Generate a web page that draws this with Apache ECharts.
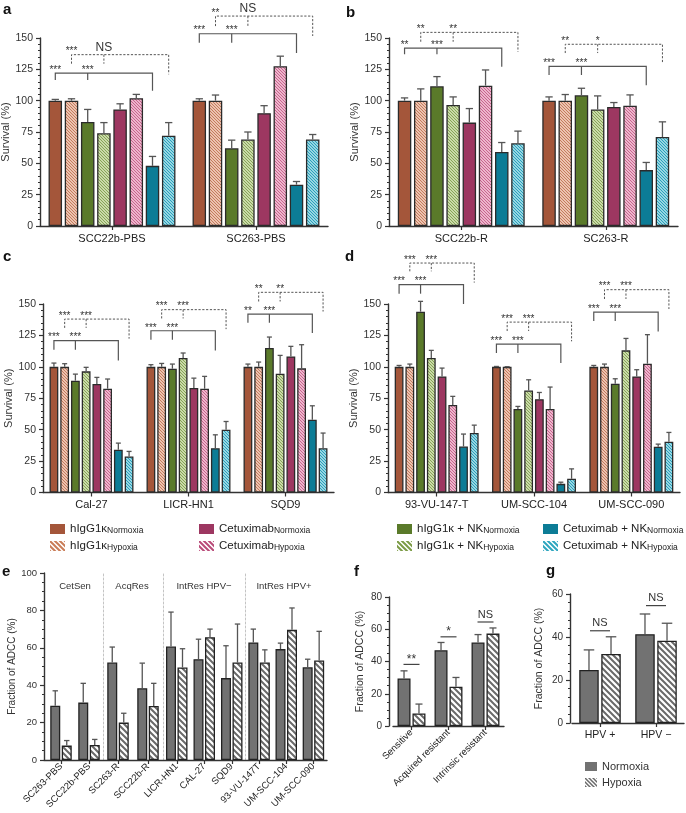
<!DOCTYPE html>
<html><head><meta charset="utf-8">
<script src="https://cdn.jsdelivr.net/npm/echarts@6/dist/echarts.min.js"></script>
<style>html,body{margin:0;padding:0;background:#fff}#c{width:686px;height:813px}</style>
</head><body><div id="c"></div>
<script>
// ================= DATA =================
const survivalNames = ['hIgG1κ Normoxia','hIgG1κ Hypoxia','hIgG1κ + NK Normoxia','hIgG1κ + NK Hypoxia','Cetuximab Normoxia','Cetuximab Hypoxia','Cetuximab + NK Normoxia','Cetuximab + NK Hypoxia'];
const survivalTicks = [0, 150, 25];

// panel a  (rows = cell line, columns = the 8 conditions)
const aCategories = ['SCC22b-PBS','SC263-PBS'];
const aMeans  = [[100,100,83,74,93,102,48,72],[100,100,62,69,90,127.5,33,69]];
const aErrTop = [[101,101.5,93,82.5,97.5,105,55.5,82.5],[101.5,104.5,68.5,75,96,135.5,35.5,73]];
// [category, fromBar, midBar, toBar, level, leftEnd, rightEnd, leftLabel, midLabel, dashed]
const aBrackets = [
  [0,0,2,6,122,116.5,108,'***','***',false],
  [0,1,3,7,136.7,129.5,121,'***','NS',true],
  [1,0,2,6,153.4,146.3,138,'***','***',false],
  [1,1,3,7,167.5,159.5,151.6,'**','NS',true]
];
// panel b
const bCategories = ['SCC22b-R','SC263-R'];
const bMeans  = [[100,100,111.5,96.5,82.5,112,59,66],[100,100,104.3,93,95,96,44.6,71]];
const bErrTop = [[102.2,109.4,119.2,103,93.7,124.5,66.6,75.7],[103,104.9,109.9,103.8,98.5,104.6,50.7,83.1]];
const bBrackets = [
  [0,0,2,6,142,137,127,'**','***',false],
  [0,1,3,7,154.5,147,139,'**','**',true],
  [1,0,2,6,127.4,120.5,112.3,'***','***',false],
  [1,1,3,7,145,138,129.5,'**','*',true]
];
// panel c
const cCategories = ['Cal-27','LICR-HN1','SQD9'];
const cMeans  = [[100,100,89,96.4,86.3,82.6,34,28.7],[100,100,98.5,107,83.1,82.6,35.3,49.9],[100,100,115,94.5,108.3,98.8,57.9,35.3]];
const cErrTop = [[103,102.5,94.2,99.6,91.6,90.3,39.3,32.7],[101.7,102.7,102.2,111,91,92.4,45.9,56.5],[102.2,103.8,123.7,109.1,116.3,117.6,69,47.3]];
const cBrackets = [
  [0,0,2,6,120.8,113.6,105,'***','***',false],
  [0,1,3,7,138,131,122.4,'***','***',true],
  [1,0,2,6,128.7,121.6,113,'***','***',false],
  [1,1,3,7,145.5,138.5,130,'***','***',true],
  [2,0,2,6,142,135,127,'**','***',false],
  [2,1,3,7,159.3,152,144,'**','**',true]
];
// panel d
const dCategories = ['93-VU-147-T','UM-SCC-104','UM-SCC-090'];
const dMeans  = [[100,100,143.9,107,92.4,69.6,36.6,47.3],[100,100,66.4,81.2,74.3,66.4,6.9,10.9],[100,100,86.5,113.1,92.4,102.5,36.4,40.4]];
const dErrTop = [[101.1,102.2,152.1,113.1,99,76.5,46.5,53.6],[100.3,100.1,68.5,89.7,79.6,83.9,8.2,18.8],[101.1,102.2,90.5,122.6,97.7,125.6,38.5,47.8]];
const dBrackets = [
  [0,0,2,6,165.4,158.2,150,'***','***',false],
  [0,1,3,7,182.6,176,167,'***','***',true],
  [1,0,2,6,118.1,111,103,'***','***',false],
  [1,1,3,7,135.6,128.5,120.3,'***','***',true],
  [2,0,2,6,143.6,136.5,128.2,'***','***',false],
  [2,1,3,7,161.4,154,146,'***','***',true]
];
// panel e
const eCategories = [['SC263-PBS','SCC22b-PBS'],['SC263-R','SCC22b-R'],['LICR-HN1','CAL-27','SQD9'],['93-VU-147T','UM-SCC-104','UM-SCC-090']];
const eGroupTitles = [['Cet','Sen',''],['Acq','Res',''],['Int','Res',' HPV−'],['Int','Res',' HPV+']];
const eNormoxia    = [[29,30.7],[52.1,38.4],[60.7,53.9,43.8],[62.9,59.3,49.6]];
const eNormoxiaTop = [[37,41],[60.4,51.8],[79.1,64.6,61.1],[70,62.5,53.9]];
const eHypoxia     = [[7.7,8],[20,28.9],[49.5,65.7,52.1],[52.1,69.6,53.2]];
const eHypoxiaTop  = [[10.4,11],[25,41],[59.5,70,72.7],[58.9,81.3,68.8]];
// panel f
const fCategories = ['Sensitive','Acquired resistant','Intrinsic resistant'];
const fNormoxia    = [29.5,47,51.8];
const fNormoxiaTop = [34.2,51.8,56.7];
const fHypoxia     = [7.8,24.3,57.3];
const fHypoxiaTop  = [13.6,30.1,60.8];
const fSignif      = ['**','*','NS'];
const fSignifLevel = [38.2,55.3,64.5];
// panel g
const gCategories = ['HPV +','HPV −'];
const gNormoxia    = [24.7,41.3];
const gNormoxiaTop = [34,50.7];
const gHypoxia     = [32.1,38.3];
const gHypoxiaTop  = [40.1,46.4];
const gSignif      = ['NS','NS'];
const gSignifLevel = [42.9,54.6];

// ================= STYLE =================
const FONT = "'Liberation Sans', Arial, Helvetica, sans-serif";
function hatch(bg, fg, size, lw) {
  const cv = document.createElement('canvas'); cv.width = cv.height = size;
  const g = cv.getContext('2d');
  g.fillStyle = bg; g.fillRect(0, 0, size, size);
  g.strokeStyle = fg; g.lineWidth = lw; g.beginPath();
  for (let k = -1; k <= 1; k++) { g.moveTo(k*size - 1, -1); g.lineTo(k*size + size + 1, size + 1); }
  g.stroke();
  return { image: cv, repeat: 'repeat' };
}
const survFill = [
  '#a4563a', hatch('#ecc3b0', '#c47b5d', 3, 1),
  '#5a7a2a', hatch('#cadaa9', '#86a456', 3, 1),
  '#9d3761', hatch('#edb6cc', '#c8648e', 3, 1),
  '#0c7c96', hatch('#97d6e3', '#2aa0ba', 3, 1)
];
const survLegendFill = [
  '#a4563a', hatch('#ffffff', '#c97c57', 5, 2),
  '#5a7a2a', hatch('#ffffff', '#7b9b45', 5, 2),
  '#9d3761', hatch('#ffffff', '#b94a78', 5, 2),
  '#0c7c96', hatch('#ffffff', '#2ea6bf', 5, 2)
];
const normFill = '#727272';
const hypFill = hatch('#ffffff', '#6a6a6a', 6, 2);
const AX = '#333';

// ================= BUILDERS =================
const grids = [], xAxes = [], yAxes = [], series = [];

function errRender(n, w, gf) {
  const pitch = w * (1 + gf), total = n * w + (n - 1) * w * gf;
  return function (params, api) {
    const c = api.value(0), i = api.value(1);
    const p0 = api.coord([c, api.value(2)]), p1 = api.coord([c, api.value(3)]);
    const x = p0[0] - total / 2 + i * pitch + w / 2, h = Math.max(2.5, w * 0.27);
    const st = { stroke: '#555', lineWidth: 1.3 };
    return { type: 'group', children: [
      { type: 'line', shape: { x1: x, y1: p0[1], x2: x, y2: p1[1] }, style: st },
      { type: 'line', shape: { x1: x - h, y1: p1[1], x2: x + h, y2: p1[1] }, style: st }
    ]};
  };
}
function bracketRender(n, w, gf, list) {
  const pitch = w * (1 + gf), total = n * w + (n - 1) * w * gf;
  return function (params, api) {
    const c = api.value(0);
    const cx = api.coord([c, 0])[0];
    const bx = i => cx - total / 2 + i * pitch + w / 2;
    const x0 = bx(api.value(1)), xm = bx(api.value(2)), x1 = bx(api.value(3));
    const yl = api.coord([c, api.value(4)])[1];
    const yle = api.coord([c, api.value(5)])[1];
    const yre = api.coord([c, api.value(6)])[1];
    const dashed = api.value(7) === 1;
    const ls = { stroke: '#555', lineWidth: dashed ? 1 : 1.2, lineDash: dashed ? [2.2, 1.6] : null, fill: null };
    const b = list[params.dataIndex];
    const txt = (x, t) => ({ type: 'text', x: x, y: t === 'NS' ? yl - 1 : yl + 2,
      style: { text: t, fontFamily: FONT, fontSize: t === 'NS' ? 12 : 10, fill: '#333', align: 'center', verticalAlign: 'bottom' } });
    return { type: 'group', children: [
      { type: 'polyline', shape: { points: [[x0, yle], [x0, yl], [x1, yl], [x1, yre]] }, style: ls },
      { type: 'line', shape: { x1: xm, y1: yl, x2: xm, y2: yle }, style: ls },
      txt(x0, b[7]), txt(xm, b[8])
    ]};
  };
}
function sigRender(labels, halfW) {
  return function (params, api) {
    const p = api.coord([api.value(0), api.value(1)]);
    const t = labels[params.dataIndex];
    return { type: 'group', children: [
      { type: 'line', shape: { x1: p[0] - halfW, y1: p[1], x2: p[0] + halfW, y2: p[1] }, style: { stroke: '#444', lineWidth: 1.2 } },
      { type: 'text', x: p[0], y: t === 'NS' ? p[1] - 2 : p[1] + 1, style: { text: t, fontFamily: FONT, fontSize: t === 'NS' ? 11 : 12, fill: '#333', align: 'center', verticalAlign: 'bottom' } }
    ]};
  };
}
function valueAxis(gi, min, max, interval, name, nameGap, fs, minorSplit, offset) {
  return { gridIndex: gi, type: 'value', min: min, max: max, interval: interval, offset: offset || 0,
    name: name, nameLocation: 'middle', nameGap: nameGap,
    nameTextStyle: { fontFamily: FONT, fontSize: fs + 0.5, color: '#333' },
    axisLine: { show: true, lineStyle: { color: AX, width: 1.4 } },
    axisTick: { show: true, length: 4, lineStyle: { color: AX, width: 1.2 } },
    minorTick: { show: true, splitNumber: minorSplit, length: 2, lineStyle: { color: AX, width: 1 } },
    splitLine: { show: false }, minorSplitLine: { show: false },
    axisLabel: { fontFamily: FONT, fontSize: fs, color: '#333', margin: 7 } };
}
function catAxis(gi, cats, fs, rotate, showLine) {
  return { gridIndex: gi, type: 'category', data: cats,
    axisLine: { show: showLine !== false, lineStyle: { color: AX, width: 1.4 } },
    axisTick: { show: true, alignWithLabel: true, length: 4, lineStyle: { color: AX, width: 1.2 } },
    splitLine: { show: false },
    axisLabel: { fontFamily: FONT, fontSize: fs, color: '#222', margin: rotate ? 5 : 7, interval: 0, rotate: rotate || 0 } };
}
function addSurvival(cats, means, tops, brackets, rect, barW, gf) {
  const gi = grids.length;
  grids.push({ left: rect[0], top: rect[1], width: rect[2], height: rect[3], containLabel: false, outerBoundsMode: 'none' });
  xAxes.push(catAxis(gi, cats, 11));
  yAxes.push(valueAxis(gi, survivalTicks[0], survivalTicks[1], survivalTicks[2], 'Survival (%)', 25, 10.5, 5));
  survivalNames.forEach((n, i) => series.push({ type: 'bar', name: n, xAxisIndex: gi, yAxisIndex: gi,
    barWidth: barW, barGap: (gf * 100) + '%', data: cats.map((_, c) => means[c][i]),
    itemStyle: { color: survFill[i], borderColor: '#2b2b2b', borderWidth: 1.3 } }));
  const ed = [];
  cats.forEach((_, c) => means[c].forEach((m, i) => ed.push([c, i, m, tops[c][i]])));
  series.push({ type: 'custom', xAxisIndex: gi, yAxisIndex: gi, data: ed, encode: { x: 0, y: 3 }, renderItem: errRender(8, barW, gf), z: 3 });
  series.push({ type: 'custom', xAxisIndex: gi, yAxisIndex: gi,
    data: brackets.map(b => [b[0], b[1], b[2], b[3], b[4], b[5], b[6], b[9] ? 1 : 0]),
    encode: { x: 0, y: 4 }, renderItem: bracketRender(8, barW, gf, brackets), z: 4 });
}
function addPair(gi, cats, nv, nt, hv, ht, barW, gf) {
  series.push({ type: 'bar', name: 'Normoxia', xAxisIndex: gi, yAxisIndex: gi, barWidth: barW, barGap: (gf * 100) + '%',
    data: nv.slice(), itemStyle: { color: normFill, borderColor: '#222', borderWidth: 1.3 } });
  series.push({ type: 'bar', name: 'Hypoxia', xAxisIndex: gi, yAxisIndex: gi, barWidth: barW, barGap: (gf * 100) + '%',
    data: hv.slice(), itemStyle: { color: hypFill, borderColor: '#222', borderWidth: 1.3 } });
  const ed = [];
  cats.forEach((_, c) => { ed.push([c, 0, nv[c], nt[c]]); ed.push([c, 1, hv[c], ht[c]]); });
  series.push({ type: 'custom', xAxisIndex: gi, yAxisIndex: gi, data: ed, encode: { x: 0, y: 3 }, renderItem: errRender(2, barW, gf), z: 3 });
}

// ---- a-d
addSurvival(aCategories, aMeans, aErrTop, aBrackets, [40, 38, 288, 188], 13.5, 0.2);
addSurvival(bCategories, bMeans, bErrTop, bBrackets, [389, 38, 289, 188], 13.5, 0.2);
addSurvival(cCategories, cMeans, cErrTop, cBrackets, [43, 304, 291, 188.5], 8.8, 0.22);
addSurvival(dCategories, dMeans, dErrTop, dBrackets, [388, 304, 292, 188.5], 8.8, 0.22);

// ---- e: frame grid (y axis + full x-axis line)
const eFrame = grids.length;
grids.push({ left: 44, top: 573, width: 283, height: 187, containLabel: false, outerBoundsMode: 'none' });
xAxes.push({ gridIndex: eFrame, type: 'category', data: [''], axisLine: { show: true, lineStyle: { color: AX, width: 1.4 } }, axisTick: { show: false }, axisLabel: { show: false } });
yAxes.push(valueAxis(eFrame, 0, 100, 20, 'Fraction of ADCC (%)', 26, 9.5, 4));
const eRects = [[47, 56], [103, 60], [163, 82.5], [245.5, 81.5]];
eCategories.forEach((cats, k) => {
  const gi = grids.length;
  grids.push({ left: eRects[k][0], top: 573, width: eRects[k][1], height: 187, containLabel: false, outerBoundsMode: 'none' });
  xAxes.push(catAxis(gi, cats, 9.5, 45, false));
  yAxes.push({ gridIndex: gi, type: 'value', min: 0, max: 100, show: k > 0,
    axisLine: { show: true, lineStyle: { color: '#c4c4c4', width: 1, type: [2, 2] } },
    axisTick: { show: false }, axisLabel: { show: false }, splitLine: { show: false } });
  addPair(gi, cats, eNormoxia[k], eNormoxiaTop[k], eHypoxia[k], eHypoxiaTop[k], 10, 0.15);
});

// ---- f
const fg = grids.length;
grids.push({ left: 393, top: 597, width: 111, height: 129, containLabel: false, outerBoundsMode: 'none' });
xAxes.push(catAxis(fg, fCategories, 9.5, 45));
yAxes.push(valueAxis(fg, 0, 80, 20, 'Fraction of ADCC (%)', 23, 10, 4, 4));
addPair(fg, fCategories, fNormoxia, fNormoxiaTop, fHypoxia, fHypoxiaTop, 13, 0.15);
series.push({ type: 'custom', xAxisIndex: fg, yAxisIndex: fg, data: fSignifLevel.map((v, i) => [i, v]), renderItem: sigRender(fSignif, 8), z: 4 });

// ---- g
const gg = grids.length;
grids.push({ left: 572, top: 594, width: 112, height: 129, containLabel: false, outerBoundsMode: 'none' });
xAxes.push(catAxis(gg, gCategories, 10.5));
yAxes.push(valueAxis(gg, 0, 60, 20, 'Fraction of ADCC (%)', 25, 10, 5, 2));
addPair(gg, gCategories, gNormoxia, gNormoxiaTop, gHypoxia, gHypoxiaTop, 19.5, 0.13);
series.push({ type: 'custom', xAxisIndex: gg, yAxisIndex: gg, data: gSignifLevel.map((v, i) => [i, v]), renderItem: sigRender(gSignif, 10), z: 4 });

// ---- legends
const subRich = {
  m: { fontFamily: FONT, fontSize: 11.5, color: '#222', lineHeight: 12, verticalAlign: 'top' },
  s: { fontFamily: FONT, fontSize: 8.5, color: '#222', lineHeight: 9, padding: [5, 0, 0, 0], verticalAlign: 'bottom' }
};
const subFmt = name => { const k = name.lastIndexOf(' '); return '{m|' + name.slice(0, k) + '}{s|' + name.slice(k + 1) + '}'; };
const legendX = [45, 194, 392, 538];
const legendOrder = [0, 4, 2, 6];
const legends = legendX.map((x, col) => ({
  left: x, top: 516, orient: 'vertical', itemWidth: 15, itemHeight: 10, itemGap: 3, icon: 'rect',
  selectedMode: false, formatter: subFmt, textStyle: { rich: subRich },
  itemStyle: { borderWidth: 0 },
  data: [0, 1].map(j => ({ name: survivalNames[legendOrder[col] + j], itemStyle: { color: survLegendFill[legendOrder[col] + j], borderWidth: 0 } }))
}));
legends.push({ left: 580, top: 756, orient: 'vertical', itemWidth: 12, itemHeight: 9, itemGap: 5, icon: 'rect',
  selectedMode: false, textStyle: { fontFamily: FONT, fontSize: 11, color: '#333' }, itemStyle: { borderWidth: 0 },
  data: [{ name: 'Normoxia', itemStyle: { color: normFill, borderWidth: 0 } }, { name: 'Hypoxia', itemStyle: { color: hatch('#ffffff', '#6a6a6a', 4, 1.5), borderWidth: 0 } }] });

// ---- graphic texts (panel letters, e group headers)
const letters = [['a', 3, 10], ['b', 346, 13], ['c', 3, 257], ['d', 345, 257], ['e', 2, 572], ['f', 354, 572], ['g', 546, 571]];
const graphic = letters.map(l => ({ type: 'text', x: l[1], y: l[2], style: { text: l[0], fontFamily: FONT, fontSize: 15, fontWeight: 'bold', fill: '#111', verticalAlign: 'middle' } }));
const eHeadX = [75, 132, 204, 284];
eGroupTitles.forEach((t, k) => graphic.push({ type: 'text', x: eHeadX[k], y: 586,
  style: { text: '{m|' + t[0] + '}{s|' + t[1] + '}' + (t[2] ? '{m|' + t[2] + '}' : ''), align: 'center', verticalAlign: 'middle',
    rich: { m: { fontFamily: FONT, fontSize: 9.5, fill: '#333', color: '#333', lineHeight: 10, verticalAlign: 'top' },
            s: { fontFamily: FONT, fontSize: 9.5, fill: '#333', color: '#333', lineHeight: 9, padding: [5, 0, 0, 0], verticalAlign: 'bottom' } } } }));

const chart = echarts.init(document.getElementById('c'), null, { renderer: 'canvas', width: 686, height: 813 });
chart.setOption({
  animation: false, backgroundColor: '#ffffff',
  textStyle: { fontFamily: FONT },
  grid: grids, xAxis: xAxes, yAxis: yAxes, series: series, legend: legends, graphic: graphic
});
</script></body></html>
